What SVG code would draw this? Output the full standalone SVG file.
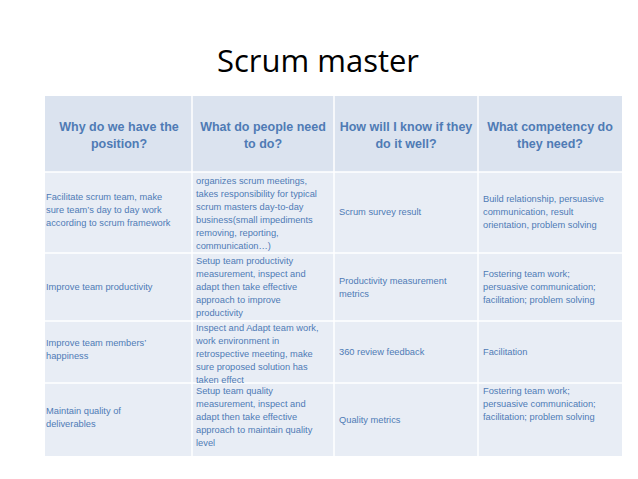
<svg xmlns="http://www.w3.org/2000/svg" width="638" height="479" viewBox="0 0 638 479">
<style>
.h{font-family:"Liberation Sans",Arial,sans-serif;font-size:12.5px;font-weight:bold;fill:#4f7bb5;text-anchor:middle}
.b{font-family:"Liberation Sans",Arial,sans-serif;font-size:9.3px;fill:#4f7bb5}
.hd{fill:#dbe3ef}.bd{fill:#e8edf5}
.g{stroke:#fff;stroke-width:1.5}
</style>
<rect width="638" height="479" fill="#fff"/>
<text x="318" y="72" font-family="Open Sans,Liberation Sans,sans-serif" font-size="31" fill="#000" text-anchor="middle">Scrum master</text>
<g id="table">
<rect class="hd" x="45" y="96" width="577" height="76"/>
<rect class="bd" x="45" y="172" width="577" height="284"/>
<g class="g">
<line x1="45" y1="172" x2="622" y2="172"/><line x1="45" y1="253" x2="622" y2="253"/>
<line x1="45" y1="321" x2="622" y2="321"/><line x1="45" y1="383" x2="622" y2="383"/>
<line x1="192" y1="96" x2="192" y2="456"/><line x1="334" y1="96" x2="334" y2="456"/><line x1="478" y1="96" x2="478" y2="456"/>
</g>
</g>
<g id="header">
<text class="h" x="119" y="131">Why do we have the</text><text class="h" x="119" y="148">position?</text>
<text class="h" x="263" y="131">What do people need</text><text class="h" x="263" y="148">to do?</text>
<text class="h" x="406" y="131">How will I know if they</text><text class="h" x="406" y="148">do it well?</text>
<text class="h" x="550" y="131">What competency do</text><text class="h" x="550" y="148">they need?</text>
</g>
<g id="row1" class="b">
<text x="46" y="200">Facilitate scrum team, make</text><text x="46" y="213">sure team’s day to day work</text><text x="46" y="226">according to scrum framework</text>
<text x="196" y="184">organizes scrum meetings,</text><text x="196" y="197">takes responsibility for typical</text><text x="196" y="210">scrum masters day-to-day</text><text x="196" y="223">business(small impediments</text><text x="196" y="236">removing, reporting,</text><text x="196" y="249">communication…)</text>
<text x="339" y="215">Scrum survey result</text>
<text x="483" y="202">Build relationship, persuasive</text><text x="483" y="215">communication, result</text><text x="483" y="228">orientation, problem solving</text>
</g>
<g id="row2" class="b">
<text x="46" y="290">Improve team productivity</text>
<text x="196" y="264">Setup team productivity</text><text x="196" y="277">measurement, inspect and</text><text x="196" y="290">adapt then take effective</text><text x="196" y="303">approach to improve</text><text x="196" y="316">productivity</text>
<text x="339" y="284">Productivity measurement</text><text x="339" y="297">metrics</text>
<text x="483" y="277">Fostering team work;</text><text x="483" y="290">persuasive communication;</text><text x="483" y="303">facilitation; problem solving</text>
</g>
<g id="row3" class="b">
<text x="46" y="346">Improve team members’</text><text x="46" y="359">happiness</text>
<text x="196" y="331">Inspect and Adapt team work,</text><text x="196" y="344">work environment in</text><text x="196" y="357">retrospective meeting, make</text><text x="196" y="370">sure proposed solution has</text><text x="196" y="383">taken effect</text>
<text x="339" y="355">360 review feedback</text>
<text x="483" y="355">Facilitation</text>
</g>
<g id="row4" class="b">
<text x="46" y="414">Maintain quality of</text><text x="46" y="427">deliverables</text>
<text x="196" y="394">Setup team quality</text><text x="196" y="407">measurement, inspect and</text><text x="196" y="420">adapt then take effective</text><text x="196" y="433">approach to maintain quality</text><text x="196" y="446">level</text>
<text x="339" y="423">Quality metrics</text>
<text x="483" y="394">Fostering team work;</text><text x="483" y="407">persuasive communication;</text><text x="483" y="420">facilitation; problem solving</text>
</g>
</svg>
